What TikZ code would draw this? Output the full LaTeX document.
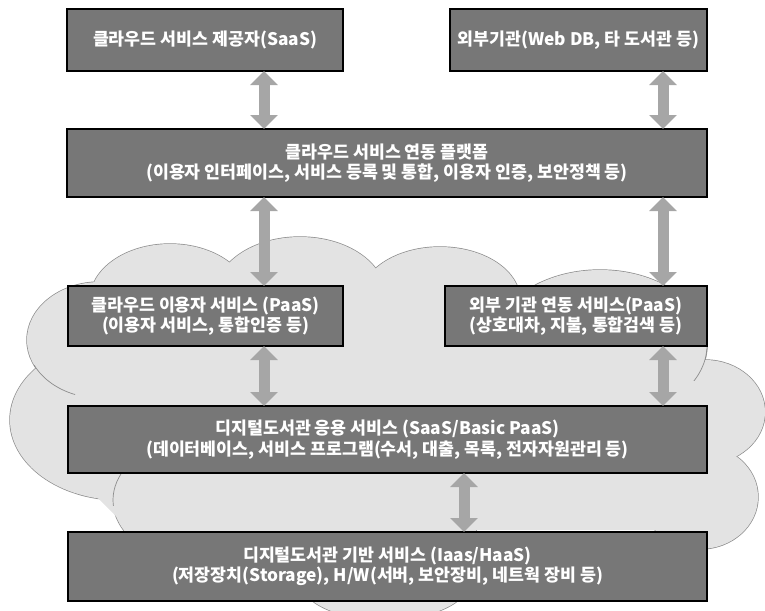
\documentclass[tikz,border=0pt]{standalone}
\usepackage{fontspec}
\usetikzlibrary{arrows.meta}
\newfontfamily\krfont{Noto Sans CJK KR}
\definecolor{boxgray}{HTML}{777777}
\definecolor{cloudgray}{HTML}{E3E3E3}
\definecolor{cloudline}{HTML}{8C8C8C}
\definecolor{arrowgray}{HTML}{A6A6A6}
\tikzset{
	tier/.style = {draw = black, line width = 2pt, fill = boxgray, text = white, align = center, inner sep = 0pt, outer sep = 0pt, font = \krfont\bfseries\fontsize{17.3}{20.5}\selectfont},
	link/.style = {draw = arrowgray, line width = 11pt, {Triangle[width = 27pt, length = 14pt]}-{Triangle[width = 27pt, length = 14pt]}},
	puff/.style = {draw = cloudline, line width = 1.4pt, fill = cloudgray},
	crease/.style = {draw = cloudline, line width = 0.7pt}
}

\begin{document}
\begin{tikzpicture}[x = 1pt, y = -1pt]
	\useasboundingbox (0,0) rectangle (765,610);
	\foreach \cx/\cy/\rx/\ry in {170/300/80/56, 300/295/85/58, 440/300/80/53, 600/345/107/75, 100/340/73/58, 120/420/110/80, 300/500/187/90, 385/580/85/40, 705/412/60/52, 700/497/58/52}
		\draw[puff] (\cx,\cy) ellipse [x radius = \rx pt, y radius = \ry pt];
	\fill[cloudgray] (100,300) -- (680,310) -- (700,460) -- (660,530) -- (130,530) -- (40,440) -- (60,340) -- cycle;
	\foreach \cx/\cy/\rx/\ry in {170/300/80/56, 300/295/85/58, 440/300/80/53, 600/345/107/75, 100/340/73/58, 120/420/110/80, 300/500/187/90, 385/580/85/40, 705/412/60/52, 700/497/58/52}
		\fill[cloudgray] (\cx,\cy) ellipse [x radius = \rx pt, y radius = \ry pt];
	\begin{scope}
		\clip (25,365) rectangle (75,400);
		\draw[crease] (100,340) ellipse [x radius = 73pt, y radius = 58pt];
	\end{scope}
	\begin{scope}
		\clip (105,465) rectangle (130,505);
		\draw[crease] (300,500) ellipse [x radius = 187pt, y radius = 90pt];
	\end{scope}
	\begin{scope}
		\clip (690,346) rectangle (712,380);
		\draw[crease] (600,345) ellipse [x radius = 107pt, y radius = 75pt];
	\end{scope}

	\node[tier, minimum width = 276pt, minimum height = 62pt] (saas) at (205,40) {클라우드 서비스 제공자(SaaS)};
	\node[tier, minimum width = 257pt, minimum height = 62pt] (extorg) at (578.5,40) {외부기관(Web DB, 타 도서관 등)};
	\node[tier, minimum width = 640pt, minimum height = 68pt] (platform) at (387,163) {클라우드 서비스 연동 플랫폼\\(이용자 인터페이스, 서비스 등록 및 통합, 이용자 인증, 보안정책 등)};
	\node[tier, minimum width = 275pt, minimum height = 60pt] (usersvc) at (205.5,316) {클라우드 이용자 서비스 (PaaS)\\(이용자 서비스, 통합인증 등)};
	\node[tier, minimum width = 262pt, minimum height = 60pt] (extsvc) at (576,316) {외부 기관 연동 서비스(PaaS)\\(상호대차, 지불, 통합검색 등)};
	\node[tier, minimum width = 639pt, minimum height = 67pt] (appsvc) at (387.5,439.5) {디지털도서관 응용 서비스 (SaaS/Basic PaaS)\\(데이터베이스, 서비스 프로그램(수서, 대출, 목록, 전자자원관리 등)};
	\node[tier, minimum width = 639pt, minimum height = 69pt] (basesvc) at (387.5,566.5) {디지털도서관 기반 서비스 (Iaas/HaaS)\\(저장장치(Storage), H/W(서버, 보안장비, 네트웍 장비 등)};

	\coordinate (leftlane) at (264,0);
	\coordinate (rightlane) at (663,0);
	\coordinate (midlane) at (464,0);
	\draw[link] (saas.south -| leftlane) -- (platform.north -| leftlane);
	\draw[link] (extorg.south -| rightlane) -- (platform.north -| rightlane);
	\draw[link] (platform.south -| leftlane) -- (usersvc.north -| leftlane);
	\draw[link] (platform.south -| rightlane) -- (extsvc.north -| rightlane);
	\draw[link] (usersvc.south -| leftlane) -- (appsvc.north -| leftlane);
	\draw[link] (extsvc.south -| rightlane) -- (appsvc.north -| rightlane);
	\draw[link] (appsvc.south -| midlane) -- (basesvc.north -| midlane);
\end{tikzpicture}
\end{document}
